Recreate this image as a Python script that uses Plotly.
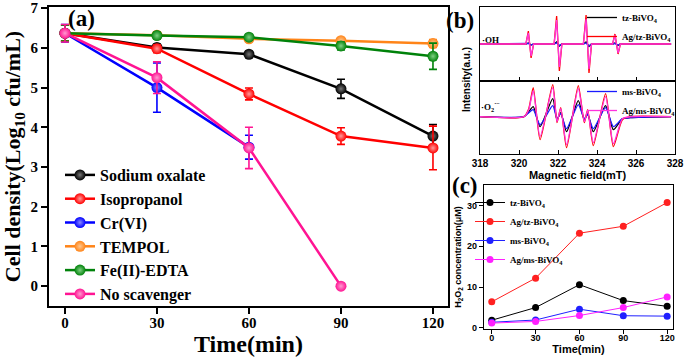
import plotly.graph_objects as go

W, H = 685, 359

# ---------------- Panel (a) data ----------------
time_a = [0, 30, 60, 90, 120]
sodium_oxalate = [6.37, 6.01, 5.84, 4.97, 3.78]
sodium_oxalate_err = [0.2, 0.08, 0.06, 0.24, 0.29]
isopropanol = [6.37, 5.98, 4.84, 3.78, 3.48]
isopropanol_err = [0.2, 0.1, 0.15, 0.21, 0.55]
time_cr = [0, 30, 60]
cr_vi = [6.37, 5.0, 3.5]
cr_vi_err = [0.22, 0.62, 0.3]
tempol = [6.37, 6.32, 6.23, 6.18, 6.11]
tempol_err = [0.2, 0.08, 0.05, 0.06, 0.1]
fe_edta = [6.37, 6.31, 6.27, 6.05, 5.79]
fe_edta_err = [0.2, 0.08, 0.05, 0.1, 0.33]
time_ns = [0, 30, 60, 90]
no_scavenger = [6.37, 5.25, 3.48, 0.0]
no_scavenger_err = [0.22, 0.4, 0.52, 0.0]

# ---------------- Panel (b) data (EPR) ----------------
field_oh = [318.0, 320.35, 320.48, 320.62, 320.75, 321.8, 321.93, 322.07, 322.2,
            323.3, 323.44, 323.59, 323.72, 324.8, 324.92, 325.08, 325.2, 327.8]
oh_ag_tz = [0, 0, 13, -14, 0, 0, 28, -27, 0, 0, 29, -29, 0, 0, 10, -10, 0, 0]
oh_ag_ms = [0, 0, 11, -12, 0, 0, 24, -23, 0, 0, 25, -25, 0, 0, 9, -9, 0, 0]
oh_tz = [0, 0, 1, -1, 0, 0, 2, -2, 0, 0, 2, -2.5, 0, 0, 1, -1.5, 0, 0]
oh_ms = [0, 0, 0.5, -1, 0, 0, 1, -1.5, 0, 0, 1, -2, 0, 0, 0.5, -1, 0, 0]

field_o2 = [318.0, 320.25, 320.5, 320.73, 321.08, 321.73, 321.95, 322.14, 322.44,
            323.04, 323.35, 323.52, 323.81, 324.44, 324.84, 325.3, 325.7, 327.8]
o2_ag_tz = [0, 0, 8, 29, -23, 32, -6, 9, -31, 31, -6, 7, -29, 23, -30, -3, 0, 0]
o2_ag_ms = [0, 0, 7, 26, -20, 29, -5, 8, -28, 28, -5, 6, -26, 20, -27, -2, 0, 0]
o2_tz = [0, 0, 5, 10, -10, 18, -3, 4, -15, 16, -3, 3, -15, 11, -13, -2, -1, 0]
o2_ms = [0, 0, 4, 7, -8, 11, -2, 3, -12, 12, -2, 2, -12, 9, -10, -2, -1, 0]

# ---------------- Panel (c) data ----------------
time_c = [0, 30, 60, 90, 120]
h2o2_tz = [1.9, 5.0, 10.6, 6.7, 5.3]
h2o2_ag_tz = [6.4, 12.2, 23.2, 24.9, 30.7]
h2o2_ms = [1.4, 1.95, 4.6, 3.0, 2.9]
h2o2_ag_ms = [1.2, 1.6, 3.05, 5.0, 7.6]

SERIF = "Liberation Serif"
SANS = "Liberation Sans"

def px_x(p):
    return p / W

def px_y(p):
    return 1 - p / H

fig = go.Figure()

# ---------- panel (a) traces ----------
series_a = [
    ("Sodium oxalate", time_a, sodium_oxalate, sodium_oxalate_err, "#000000", "#777777"),
    ("Isopropanol", time_a, isopropanol, isopropanol_err, "#ff0000", "#ff9a9a"),
    ("Cr(VI)", time_cr, cr_vi, cr_vi_err, "#0000ff", "#8a8aff"),
    ("TEMPOL", time_a, tempol, tempol_err, "#ff8418", "#ffc890"),
    ("Fe(II)-EDTA", time_a, fe_edta, fe_edta_err, "#00820a", "#7fd083"),
    ("No scavenger", time_ns, no_scavenger, no_scavenger_err, "#ff1493", "#ff9ad0"),
]
for name, t, v, e, c, gc in series_a:
    fig.add_trace(go.Scatter(
        x=t, y=v, name=name, mode="lines+markers",
        line=dict(color=c, width=2.5),
        marker=dict(color=c, size=11, gradient=dict(type="radial", color=gc)),
        error_y=dict(type="data", array=e, visible=True, color=c, thickness=1.6, width=4),
        xaxis="x", yaxis="y", legend="legend",
    ))

# ---------- panel (b) traces ----------
oh_series = [
    ("tz-BiVO<sub>4</sub>", oh_tz, "#000000", True),
    ("ms", oh_ms, "#1a1aff", False),
    ("Ag/tz-BiVO<sub>4</sub>", oh_ag_tz, "#ff0000", True),
    ("agms", oh_ag_ms, "#ff33dd", False),
]
for name, v, c, show in oh_series:
    fig.add_trace(go.Scatter(
        x=field_oh, y=v, name=name, mode="lines", line=dict(color=c, width=1.3),
        showlegend=show, xaxis="x2", yaxis="y2", legend="legend2",
    ))
o2_series = [
    ("tz", o2_tz, "#000000", False),
    ("ms-BiVO<sub>4</sub>", o2_ms, "#1a1aff", True),
    ("agtz", o2_ag_tz, "#ff0000", False),
    ("Ag/ms-BiVO<sub>4</sub>", o2_ag_ms, "#ff33dd", True),
]
for name, v, c, show in o2_series:
    fig.add_trace(go.Scatter(
        x=field_o2, y=v, name=name, mode="lines",
        line=dict(color=c, width=1.3, shape="spline", smoothing=0.6),
        showlegend=show, xaxis="x3", yaxis="y3", legend="legend3",
    ))

# ---------- panel (c) traces ----------
series_c = [
    ("tz-BiVO<sub>4</sub>", h2o2_tz, "#000000"),
    ("Ag/tz-BiVO<sub>4</sub>", h2o2_ag_tz, "#ff2020"),
    ("ms-BiVO<sub>4</sub>", h2o2_ms, "#2020ff"),
    ("Ag/ms-BiVO<sub>4</sub>", h2o2_ag_ms, "#ff20ff"),
]
for name, v, c in series_c:
    fig.add_trace(go.Scatter(
        x=time_c, y=v, name=name, mode="lines+markers",
        line=dict(color=c, width=1), marker=dict(color=c, size=7),
        xaxis="x4", yaxis="y4", legend="legend4",
    ))

axis_common = dict(showgrid=False, zeroline=False, showline=True, linecolor="black",
                   automargin=False, tickcolor="black")

fig.update_layout(
    template="none",
    width=W, height=H,
    margin=dict(l=0, r=0, t=0, b=0, autoexpand=False),
    paper_bgcolor="white", plot_bgcolor="white",
    # panel (a)
    xaxis=dict(axis_common, domain=[px_x(49), px_x(448)], range=[-5.2, 124.9],
               tickvals=[0, 30, 60, 90, 120], ticks="outside", ticklen=6, tickwidth=2,
               linewidth=2, mirror=True, ticklabelstandoff=-4,
               tickfont=dict(family=SERIF, size=15, color="black", weight="bold"),
               title=dict(text="Time(min)", standoff=0,
                          font=dict(family=SERIF, size=24, color="black", weight="bold")),
               anchor="y"),
    yaxis=dict(axis_common, domain=[px_y(306), px_y(7)], range=[-0.5, 7.03],
               tickvals=list(range(0, 8)), ticks="outside", ticklen=6, tickwidth=2,
               linewidth=2, mirror=True,
               tickfont=dict(family=SERIF, size=15, color="black", weight="bold"),
               title=dict(text="Cell density(Log<sub>10</sub> cfu/mL)", standoff=6,
                          font=dict(family=SERIF, size=22, color="black", weight="bold")),
               anchor="x"),
    # panel (b) upper
    xaxis2=dict(axis_common, domain=[px_x(480), px_x(675)], range=[318, 328],
                tickvals=[318, 320, 322, 324, 326, 328], ticks="inside", ticklen=4,
                showticklabels=False, mirror=True, linewidth=1.2, anchor="y2",
                matches="x3"),
    yaxis2=dict(axis_common, domain=[px_y(81), px_y(7)], range=[-37, 37],
                showticklabels=False, ticks="", mirror=True, linewidth=1.2, anchor="x2"),
    # panel (b) lower
    xaxis3=dict(axis_common, domain=[px_x(480), px_x(675)], range=[318, 328],
                tickvals=[318, 320, 322, 324, 326, 328], ticks="inside", ticklen=4,
                mirror=True, linewidth=1.2, anchor="y3",
                tickfont=dict(family=SANS, size=10, color="black", weight="bold"),
                title=dict(text="Magnetic field(mT)", standoff=2,
                           font=dict(family=SANS, size=11, color="black", weight="bold"))),
    yaxis3=dict(axis_common, domain=[px_y(154), px_y(81)], range=[-37.3, 35.7],
                showticklabels=False, ticks="", mirror=True, linewidth=1.2, anchor="x3"),
    # panel (c)
    xaxis4=dict(axis_common, domain=[px_x(484), px_x(673)], range=[-5.3, 124],
                tickvals=[0, 30, 60, 90, 120], ticks="outside", ticklen=4,
                mirror=True, linewidth=1.2, anchor="y4", ticklabelstandoff=-4,
                tickfont=dict(family=SANS, size=9, color="black", weight="bold"),
                title=dict(text="Time(min)", standoff=1,
                           font=dict(family=SANS, size=11, color="black", weight="bold"))),
    yaxis4=dict(axis_common, domain=[px_y(329), px_y(185)], range=[-0.25, 35],
                tickvals=[0, 10, 20, 30], ticks="outside", ticklen=4,
                mirror=True, linewidth=1.2, anchor="x4",
                tickfont=dict(family=SANS, size=9, color="black", weight="bold"),
                title=dict(text="H<sub>2</sub>O<sub>2</sub> concentration(μM)", standoff=3,
                           font=dict(family=SANS, size=9, color="black", weight="bold"))),
    legend=dict(x=px_x(60), y=px_y(158), xanchor="left", yanchor="top",
                bgcolor="rgba(0,0,0,0)", borderwidth=0,
                font=dict(family=SERIF, size=16, color="black", weight="bold")),
    legend2=dict(x=px_x(582), y=px_y(3), xanchor="left", yanchor="top",
                 bgcolor="rgba(0,0,0,0)", borderwidth=0,
                 font=dict(family=SERIF, size=9, color="black", weight="bold")),
    legend3=dict(x=px_x(582), y=px_y(77), xanchor="left", yanchor="top",
                 bgcolor="rgba(0,0,0,0)", borderwidth=0,
                 font=dict(family=SERIF, size=9, color="black", weight="bold")),
    legend4=dict(x=px_x(470), y=px_y(188), xanchor="left", yanchor="top",
                 bgcolor="rgba(0,0,0,0)", borderwidth=0,
                 font=dict(family=SERIF, size=9, color="black", weight="bold")),
)

annotations = [
    dict(text="(a)", x=px_x(81), y=px_y(19), font=dict(family=SERIF, size=23, weight="bold")),
    dict(text="(b)", x=px_x(460), y=px_y(20), font=dict(family=SERIF, size=23, weight="bold")),
    dict(text="(c)", x=px_x(465), y=px_y(186), font=dict(family=SERIF, size=23, weight="bold")),
    dict(text="·OH", x=px_x(490), y=px_y(40), font=dict(family=SERIF, size=9, weight="bold")),
    dict(text="·O<sub>2</sub><sup>·−</sup>", x=px_x(491), y=px_y(107),
         font=dict(family=SERIF, size=9, weight="bold")),
    dict(text="Intensity(a.u.)", x=px_x(467), y=px_y(80), textangle=-90,
         font=dict(family=SANS, size=10, weight="bold")),
]
for a in annotations:
    a.update(xref="paper", yref="paper", showarrow=False, xanchor="center", yanchor="middle")
    a["font"]["color"] = "black"
fig.update_layout(annotations=annotations)

fig.write_html(
    "out.html",
    config={"displayModeBar": False},
    post_script="document.body.style.margin='0';document.body.style.padding='0';"
                "document.body.style.overflow='hidden';",
)
